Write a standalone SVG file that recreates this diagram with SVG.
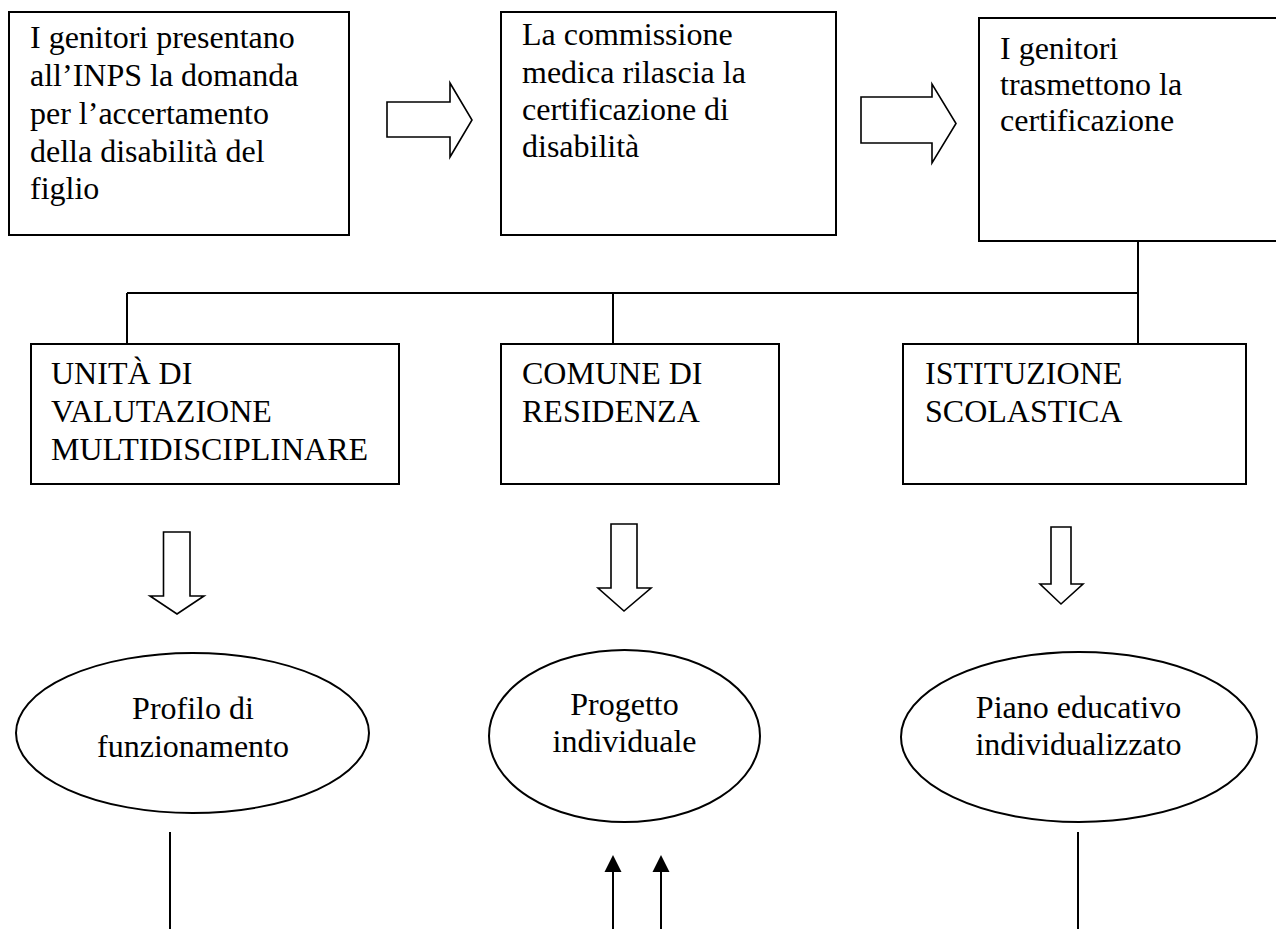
<svg xmlns="http://www.w3.org/2000/svg" width="1276" height="929" viewBox="0 0 1276 929">
<defs>
<style>
.box{fill:#fff;stroke:#000;stroke-width:2}
.t{font-family:"Liberation Serif","Times New Roman",serif;font-size:32px;fill:#000}
.c{text-anchor:middle}
.blk{fill:#fff;stroke:#000;stroke-width:1.6;stroke-linejoin:miter}
.ln{fill:none;stroke:#000;stroke-width:2}
</style>
</defs>
<rect width="1276" height="929" fill="#fff"/>

<g id="connectors">
<path class="ln" d="M1138,241 V344 M127,293 H1138 M127,293 V344 M613,293 V344"/>
<path class="ln" d="M170,832 V929 M1078,832 V929"/>
<path class="ln" d="M613,929 V870 M661,929 V870" stroke-width="2.5"/>
<path d="M604.5,872 L613,855 L621.5,872 Z M652.5,872 L661,855 L669.5,872 Z" fill="#000"/>
<polygon class="blk" points="387,102 450,102 450,83 472,120 450,157 450,137 387,137"/>
<polygon class="blk" points="861,97 932,97 932,84 956,123.5 932,163 932,143 861,143"/>
<polygon class="blk" points="163.5,532 190,532 190,596 204,596 177,614 150,596 163.5,596"/>
<polygon class="blk" points="611,524 637,524 637,588 651,588 624,611 598,588 611,588"/>
<polygon class="blk" points="1051,527 1071,527 1071,584 1083,584 1061,604 1040,584 1051,584"/>
</g>

<g id="n1">
<rect class="box" x="9" y="12" width="340" height="223"/>
<text class="t" x="30" y="48">I genitori presentano</text>
<text class="t" x="30" y="86">all’INPS la domanda</text>
<text class="t" x="30" y="124">per l’accertamento</text>
<text class="t" x="30" y="162">della disabilità del</text>
<text class="t" x="30" y="199">figlio</text>
</g>

<g id="n2">
<rect class="box" x="501" y="12" width="335" height="223"/>
<text class="t" x="522" y="45">La commissione</text>
<text class="t" x="522" y="83">medica rilascia la</text>
<text class="t" x="522" y="120">certificazione di</text>
<text class="t" x="522" y="157">disabilità</text>
</g>

<g id="n3">
<rect class="box" x="979" y="18" width="310" height="223"/>
<text class="t" x="1000" y="59">I genitori</text>
<text class="t" x="1000" y="95">trasmettono la</text>
<text class="t" x="1000" y="131">certificazione</text>
</g>

<g id="n4">
<rect class="box" x="31" y="344" width="368" height="140"/>
<text class="t" x="51" y="384">UNITÀ DI</text>
<text class="t" x="51" y="422">VALUTAZIONE</text>
<text class="t" x="51" y="460">MULTIDISCIPLINARE</text>
</g>

<g id="n5">
<rect class="box" x="501" y="344" width="278" height="140"/>
<text class="t" x="522" y="384">COMUNE DI</text>
<text class="t" x="522" y="422">RESIDENZA</text>
</g>

<g id="n6">
<rect class="box" x="903" y="344" width="343" height="140"/>
<text class="t" x="925" y="384">ISTITUZIONE</text>
<text class="t" x="925" y="422">SCOLASTICA</text>
</g>

<g id="n7">
<ellipse class="box" cx="192.5" cy="733" rx="176.5" ry="80"/>
<text class="t c" x="193" y="719">Profilo di</text>
<text class="t c" x="193" y="757">funzionamento</text>
</g>

<g id="n8">
<ellipse class="box" cx="624.5" cy="736" rx="135.5" ry="86"/>
<text class="t c" x="624.5" y="715">Progetto</text>
<text class="t c" x="624.5" y="752">individuale</text>
</g>

<g id="n9">
<ellipse class="box" cx="1079" cy="737" rx="178" ry="85"/>
<text class="t c" x="1078.5" y="718">Piano educativo</text>
<text class="t c" x="1078.5" y="755">individualizzato</text>
</g>
</svg>
